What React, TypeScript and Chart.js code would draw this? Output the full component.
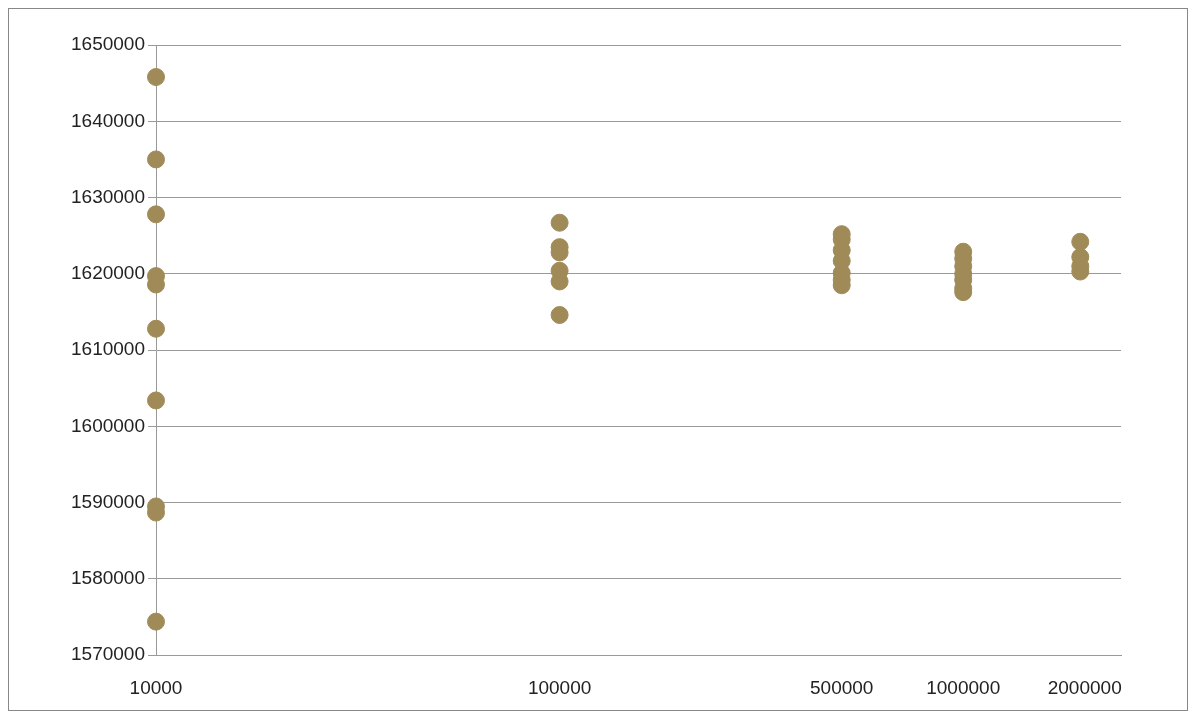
import { useEffect, useRef } from "react";
import Chart from "chart.js/auto";

const xTicks = [10000, 100000, 500000, 1000000, 2000000];
const yTicks = [1570000, 1580000, 1590000, 1600000, 1610000, 1620000, 1630000, 1640000, 1650000];

const y10k = [1645800, 1635000, 1627800, 1619700, 1618600, 1612800, 1603400, 1589500, 1588700, 1574400];
const y100k = [1626700, 1623500, 1622800, 1620400, 1619000, 1614600];
const y500k = [1625200, 1624500, 1623100, 1621700, 1620100, 1619200, 1618500];
const y1m = [1622900, 1622000, 1621000, 1620000, 1619200, 1618100, 1617600];
const y2m = [1624200, 1622200, 1621000, 1620300];

const groups: [number, number[]][] = [
  [10000, y10k],
  [100000, y100k],
  [500000, y500k],
  [1000000, y1m],
  [1950000, y2m],
];

export default function App() {
  const ref = useRef<HTMLCanvasElement | null>(null);

  useEffect(() => {
    if (!ref.current) return;
    const points = groups.flatMap(([x, ys]) => ys.map((y) => ({ x, y })));
    const chart = new Chart(ref.current, {
      type: "scatter",
      data: {
        datasets: [
          {
            data: points,
            backgroundColor: "#a08b58",
            borderColor: "#a08b58",
            pointRadius: 8.5,
            clip: false,
          } as any,
        ],
      },
      options: {
        animation: false,
        responsive: true,
        maintainAspectRatio: false,
        layout: { padding: { top: 36, right: 66, left: 24, bottom: -6 } },
        plugins: { legend: { display: false }, tooltip: { enabled: false } },
        scales: {
          x: {
            type: "logarithmic",
            min: 10000,
            max: 2460000,
            afterBuildTicks: (s: any) => {
              s.ticks = xTicks.map((v) => ({ value: v }));
            },
            ticks: {
              color: "#222",
              font: { family: "Arial, Liberation Sans", size: 19 },
              autoSkip: false,
              maxRotation: 0,
              padding: 16,
              callback: (v: any) => String(v),
            },
            grid: { display: false, drawTicks: true, tickLength: 6 },
            border: { color: "#999" },
          },
          y: {
            min: 1570000,
            max: 1650000,
            afterBuildTicks: (s: any) => {
              s.ticks = yTicks.map((v) => ({ value: v }));
            },
            afterFit: (s: any) => {
              s.width = 123;
            },
            ticks: {
              color: "#222",
              font: { family: "Arial, Liberation Sans", size: 19 },
              callback: (v: any) => String(v),
            },
            grid: { color: "#999", tickLength: 8 },
            border: { color: "#999" },
          },
        },
      },
    });
    return () => chart.destroy();
  }, []);

  return (
    <div style={{ width: 1178, height: 701, border: "1px solid #888", background: "#fff" }}>
      <canvas ref={ref} />
    </div>
  );
}
